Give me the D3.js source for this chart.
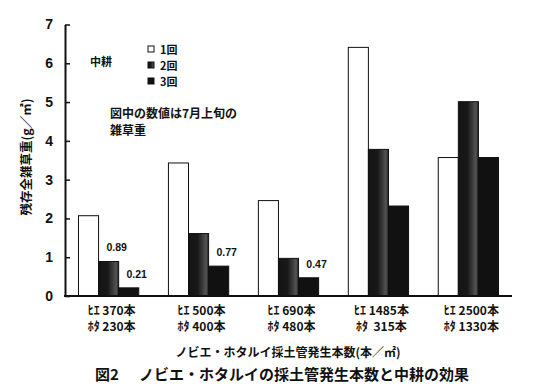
<!DOCTYPE html>
<html>
<head>
<meta charset="utf-8">
<script src="https://cdn.jsdelivr.net/npm/d3@7"></script>
<style>
  body { margin: 0; background: #fff; }
  text { font-family: "Noto Sans CJK JP", "Liberation Sans", sans-serif; fill: #111; }
  .num { font-family: "Liberation Sans", Arial, sans-serif; font-weight: bold; }
</style>
</head>
<body>
<div id="chart"></div>
<script>
const hieCounts = ["370", "500", "690", "1485", "2500"];
const hotaCounts = ["230", "400", "480", " 315", "1330"];
const seriesNames = ["1回", "2回", "3回"];
const once = [2.07, 3.43, 2.46, 6.41, 3.57];
const twice = [0.89, 1.61, 0.97, 3.78, 5.01];
const thrice = [0.21, 0.77, 0.47, 2.32, 3.57];
const yTicks = [0, 1, 2, 3, 4, 5, 6, 7];
// which bars carry a printed value: [group, series]
const labelled = [[0, 1], [0, 2], [1, 2], [2, 2]];

const width = 557, height = 389;
const margin = { left: 65, right: 45, top: 24.5, bottom: 93 };

const svg = d3.select('#chart').append('svg')
  .attr('width', width)
  .attr('height', height);

const defs = svg.append('defs');
const grad = defs.append('linearGradient').attr('id', 'shade2');
[[0, '#141414'], [0.45, '#181818'], [0.7, '#3a3a3a'], [0.88, '#555'], [1, '#1a1a1a']]
  .forEach(([o, c]) => grad.append('stop').attr('offset', o).attr('stop-color', c));

const series = [once, twice, thrice];
const fills = ['#fff', 'url(#shade2)', '#111'];

const groups = d3.range(hieCounts.length);
const x = d3.scaleBand()
  .domain(groups)
  .range([margin.left, width - margin.right])
  .paddingInner(0.33)
  .paddingOuter(0.15);

const xs = d3.scaleBand()
  .domain(d3.range(series.length))
  .range([0, x.bandwidth()]);

const y = d3.scaleLinear()
  .domain([0, 7])
  .range([height - margin.bottom, margin.top]);

// bars
series.forEach((vals, si) => {
  svg.append('g').selectAll('rect')
    .data(vals)
    .join('rect')
    .attr('x', (d, i) => x(i) + xs(si))
    .attr('y', d => y(d))
    .attr('width', xs.bandwidth())
    .attr('height', d => y(0) - y(d))
    .attr('fill', fills[si])
    .attr('stroke', '#111')
    .attr('stroke-width', 1);
});

// printed values
svg.append('g').selectAll('text')
  .data(labelled)
  .join('text')
  .attr('class', 'num')
  .attr('x', d => x(d[0]) + xs(d[1]) + xs.bandwidth() / 2 + 8)
  .attr('y', d => y(series[d[1]][d[0]]) - 10)
  .attr('text-anchor', 'middle')
  .style('font-size', '10.5px')
  .text(d => series[d[1]][d[0]].toFixed(2));

// y axis
const yAxis = svg.append('g')
  .attr('transform', `translate(${margin.left},0)`)
  .call(d3.axisLeft(y).tickValues(yTicks).tickFormat(d3.format('d'))
    .tickSizeInner(-5).tickSizeOuter(0).tickPadding(12));
yAxis.select('.domain').attr('stroke', '#111').attr('stroke-width', 2);
yAxis.selectAll('.tick line').attr('stroke', '#111').attr('stroke-width', 1.5);
yAxis.selectAll('.tick text')
  .attr('class', 'num')
  .style('font-size', '14px')
  .attr('fill', '#111');

// x axis line
svg.append('line')
  .attr('x1', margin.left - 1)
  .attr('x2', width - margin.right)
  .attr('y1', y(0))
  .attr('y2', y(0))
  .attr('stroke', '#111')
  .attr('stroke-width', 2);

// category labels, two lines each
const catLines = [
  { y: 315, text: i => 'ﾋｴ ' + hieCounts[i] + '本' },
  { y: 331, text: i => 'ﾎﾀ ' + hotaCounts[i] + '本' }
];
catLines.forEach(line => {
  svg.append('g').selectAll('text')
    .data(groups)
    .join('text')
    .attr('x', i => x(i) + x.bandwidth() / 2 + 3)
    .attr('y', line.y)
    .attr('text-anchor', 'middle')
    .style('font-size', '12px')
    .style('font-weight', 'bold')
    .style('white-space', 'pre')
    .text(line.text);
});

// y title
svg.append('text')
  .attr('transform', 'translate(31,157) rotate(-90)')
  .attr('text-anchor', 'middle')
  .style('font-size', '12.5px')
  .style('font-weight', 'bold')
  .text('残存全雑草重(g／㎡)');

// x title
svg.append('text')
  .attr('x', 288)
  .attr('y', 357)
  .attr('text-anchor', 'middle')
  .style('font-size', '12px')
  .style('font-weight', 'bold')
  .text('ノビエ・ホタルイ採土管発生本数(本／㎡)');

// caption
svg.append('text')
  .attr('x', 95)
  .attr('y', 380)
  .style('font-size', '15px')
  .style('font-weight', 'bold')
  .text('図2');
svg.append('text')
  .attr('x', 139)
  .attr('y', 380)
  .style('font-size', '15px')
  .style('font-weight', 'bold')
  .text('ノビエ・ホタルイの採土管発生本数と中耕の効果');

// legend
const legend = svg.append('g');
seriesNames.forEach((name, i) => {
  const ly = 50 + i * 16;
  legend.append('rect')
    .attr('x', 148).attr('y', ly - 4)
    .attr('width', 6).attr('height', 6)
    .attr('fill', fills[i]).attr('stroke', '#111').attr('stroke-width', 1);
  legend.append('text')
    .attr('x', 160).attr('y', ly + 4)
    .style('font-size', '11px')
    .style('font-weight', 'bold')
    .text(name);
});
legend.append('text')
  .attr('x', 90).attr('y', 66)
  .style('font-size', '11px')
  .style('font-weight', 'bold')
  .text('中耕');

svg.append('text')
  .attr('x', 110).attr('y', 118)
  .style('font-size', '12px')
  .style('font-weight', 'bold')
  .text('図中の数値は7月上旬の');
svg.append('text')
  .attr('x', 110).attr('y', 135)
  .style('font-size', '12px')
  .style('font-weight', 'bold')
  .text('雑草重');
</script>
</body>
</html>
